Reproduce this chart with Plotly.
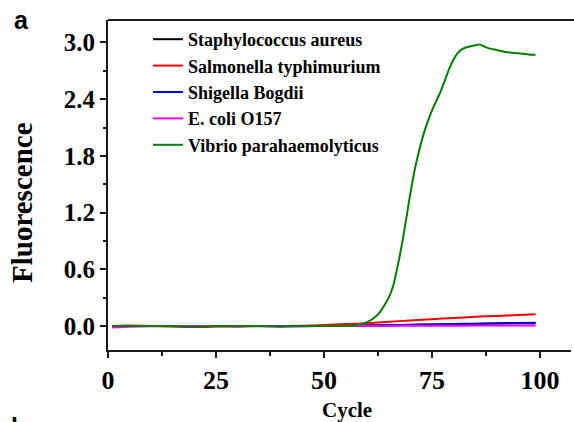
import plotly.graph_objects as go

# ---- data ----
base_cycles = [1, 5, 10, 15, 20, 25, 30, 35, 40, 45, 50, 55, 60, 65, 70, 75, 80, 85, 90, 95, 99]

staph = [0.0, 0.0, 0.0, 0.0, -0.003, 0.0, 0.0, 0.0, -0.002, 0.0, 0.0, 0.0, 0.005, 0.009, 0.013, 0.017, 0.021, 0.025, 0.029, 0.032, 0.035]
salmonella = [0.0, 0.005, 0.0, -0.005, -0.01, -0.006, -0.005, 0.0, 0.0, 0.002, 0.01, 0.02, 0.03, 0.045, 0.058, 0.072, 0.085, 0.097, 0.107, 0.117, 0.125]
shigella = [-0.005, 0.0, 0.0, 0.0, -0.003, 0.0, -0.002, 0.0, -0.002, 0.0, 0.0, 0.0, 0.004, 0.008, 0.011, 0.015, 0.019, 0.022, 0.025, 0.028, 0.03]
ecoli = [-0.015, -0.008, -0.003, 0.0, -0.002, 0.0, -0.002, 0.0, -0.003, -0.002, 0.0, 0.0, 0.0, 0.001, 0.002, 0.002, 0.003, 0.004, 0.004, 0.005, 0.005]

vibrio_cycles = [1, 10, 20, 30, 40, 50, 55, 58, 60, 62, 63, 64, 65, 66, 67, 68, 69, 70, 71, 72, 73, 74, 75,
                 76, 77, 78, 79, 80, 81, 82, 83, 84, 85, 86, 87, 88, 89, 90, 92, 94, 96, 98, 99]
vibrio = [0.0, 0.0, -0.005, 0.0, -0.005, 0.0, 0.0, 0.01, 0.04, 0.10, 0.15, 0.22, 0.30, 0.42, 0.62, 0.85, 1.12, 1.40,
          1.65, 1.85, 2.02, 2.16, 2.28, 2.38, 2.48, 2.60, 2.72, 2.82, 2.89, 2.93, 2.95, 2.96, 2.97, 2.98, 2.96, 2.94,
          2.93, 2.92, 2.90, 2.89, 2.88, 2.87, 2.87]

names = ["Staphylococcus aureus", "Salmonella typhimurium", "Shigella Bogdii", "E. coli O157", "Vibrio parahaemolyticus"]
colors = ["#000000", "#ff0000", "#0000ff", "#ff00ff", "#008000"]

x_ticks = [0, 25, 50, 75, 100]
y_ticks = [0.0, 0.6, 1.2, 1.8, 2.4, 3.0]
y_tick_labels = ["0.0", "0.6", "1.2", "1.8", "2.4", "3.0"]

SERIF = "Liberation Serif, Times New Roman, serif"

fig = go.Figure()
series = [(base_cycles, staph), (base_cycles, salmonella), (base_cycles, shigella), (base_cycles, ecoli), (vibrio_cycles, vibrio)]
for (xs, ys), name, col in zip(series, names, colors):
    fig.add_trace(go.Scatter(
        x=xs, y=ys, mode="lines", name=name,
        line=dict(color=col, width=2, shape="spline", smoothing=0.6),
    ))

axis_col = "#1a1a1a"
fig.update_layout(
    width=574, height=422,
    margin=dict(l=108, r=3, t=20, b=72),
    paper_bgcolor="white",
    plot_bgcolor="white",
    font=dict(family=SERIF, color="black"),
    showlegend=True,
    legend=dict(
        x=(148 - 108) / 463, y=0.997, xanchor="left", yanchor="top",
        bgcolor="rgba(0,0,0,0)",
        font=dict(family=SERIF, size=18, color="black", weight="bold"),
        tracegroupgap=0,
    ),
    xaxis=dict(
        range=[0, 107.2],
        tickvals=x_ticks,
        ticktext=[str(v) for v in x_ticks],
        ticks="outside", ticklen=6, tickwidth=2, tickcolor=axis_col,
        minor=dict(dtick=12.5, tick0=0, ticks="outside", ticklen=4, tickwidth=2, tickcolor=axis_col),
        showline=True, linewidth=2, linecolor=axis_col, mirror=False,
        showgrid=False, zeroline=False,
        tickfont=dict(family=SERIF, size=26, color="black", weight="bold"),
    ),
    yaxis=dict(
        range=[-0.254, 3.238],
        tickvals=y_ticks,
        ticktext=y_tick_labels,
        ticks="outside", ticklen=6, tickwidth=2, tickcolor=axis_col,
        minor=dict(dtick=0.3, tick0=0, ticks="outside", ticklen=3, tickwidth=2, tickcolor=axis_col),
        showline=True, linewidth=2, linecolor=axis_col, mirror=False,
        showgrid=False, zeroline=False,
        tickfont=dict(family=SERIF, size=25, color="black", weight="bold"),
    ),
    shapes=[
        dict(type="line", xref="paper", yref="paper", x0=0, x1=1.01, y0=1, y1=1,
             line=dict(color=axis_col, width=2)),
    ],
    annotations=[
        dict(text="Fluorescence", xref="paper", yref="paper",
             x=-(108 - 22) / 463, y=(350 - 203) / 330, xanchor="center", yanchor="middle",
             textangle=-90, showarrow=False,
             font=dict(family=SERIF, size=29, color="black", weight="bold")),
        dict(text="Cycle", xref="paper", yref="paper",
             x=(347 - 108) / 463, y=-(410 - 350) / 330, xanchor="center", yanchor="middle",
             showarrow=False,
             font=dict(family=SERIF, size=21, color="black", weight="bold")),
        dict(text="a", xref="paper", yref="paper",
             x=-(108 - 21) / 463, y=(350 - 20) / 330, xanchor="center", yanchor="middle",
             showarrow=False,
             font=dict(family="Liberation Sans, Arial, sans-serif", size=25, color="black", weight="bold")),
        dict(text="b", xref="paper", yref="paper",
             x=-(108 - 18) / 463, y=-(427 - 350) / 330, xanchor="center", yanchor="middle",
             showarrow=False,
             font=dict(family="Liberation Sans, Arial, sans-serif", size=25, color="black", weight="bold")),
    ],
)

fig.write_html("out.html")
